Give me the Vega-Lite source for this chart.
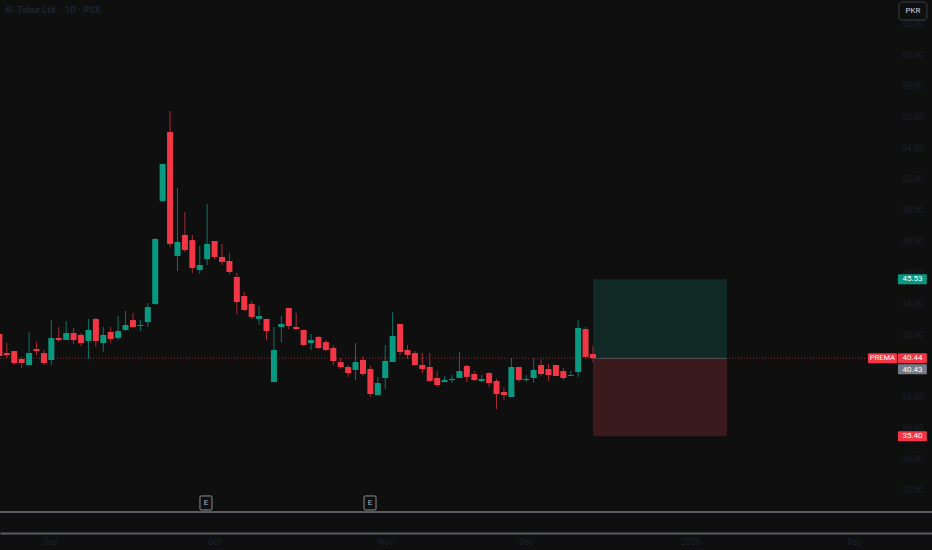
{
  "$schema": "https://vega.github.io/schema/vega-lite/v6.json",
  "width": 932,
  "height": 550,
  "autosize": {"type": "none"},
  "padding": 0,
  "background": "#0f0f0f",
  "title": {"text": "Al-Tahur Ltd. · 1D · PSX", "anchor": "start", "frame": "group", "offset": -15, "dx": 5, "color": "#1c2433", "fontSize": 9, "fontWeight": "bold", "font": "Roboto"},
  "config": {
    "view": {"stroke": null},
    "font": "Roboto",
    "axis": {"grid": false, "ticks": false, "labelOverlap": false, "labelBound": false, "labelFlush": false, "labelColor": "#1a2030", "labelFontSize": 8.5, "title": null},
    "axisY": {"labelAlign": "right", "labelBaseline": "middle", "labelPadding": 0, "domain": false},
    "axisX": {"labelPadding": 4, "domainColor": "#5a5c62", "domainWidth": 2}
  },
  "datasets": {
    "candles": [
      {"k": 0, "o": 42.00, "h": 42.10, "l": 40.50, "c": 40.58},
      {"k": 1, "o": 40.77, "h": 41.42, "l": 40.45, "c": 40.65},
      {"k": 2, "o": 40.90, "h": 40.90, "l": 40.00, "c": 40.13},
      {"k": 3, "o": 40.39, "h": 40.52, "l": 39.81, "c": 40.13},
      {"k": 4, "o": 40.00, "h": 42.13, "l": 39.94, "c": 40.77},
      {"k": 5, "o": 41.03, "h": 41.48, "l": 40.65, "c": 40.90},
      {"k": 6, "o": 40.77, "h": 40.97, "l": 40.00, "c": 40.13},
      {"k": 7, "o": 40.32, "h": 42.90, "l": 40.00, "c": 41.74},
      {"k": 8, "o": 41.74, "h": 42.45, "l": 41.48, "c": 41.61},
      {"k": 9, "o": 41.61, "h": 42.84, "l": 41.61, "c": 42.06},
      {"k": 10, "o": 42.06, "h": 42.39, "l": 41.35, "c": 41.61},
      {"k": 11, "o": 41.94, "h": 42.06, "l": 41.23, "c": 41.42},
      {"k": 12, "o": 41.55, "h": 42.97, "l": 40.39, "c": 42.26},
      {"k": 13, "o": 42.97, "h": 43.03, "l": 41.16, "c": 41.55},
      {"k": 14, "o": 41.42, "h": 42.45, "l": 40.84, "c": 41.94},
      {"k": 15, "o": 42.13, "h": 42.45, "l": 41.42, "c": 41.68},
      {"k": 16, "o": 41.74, "h": 43.16, "l": 41.61, "c": 42.19},
      {"k": 17, "o": 42.26, "h": 43.48, "l": 42.19, "c": 42.58},
      {"k": 18, "o": 42.90, "h": 43.35, "l": 42.45, "c": 42.45},
      {"k": 19, "o": 42.52, "h": 42.90, "l": 42.19, "c": 42.58},
      {"k": 20, "o": 42.77, "h": 44.00, "l": 42.45, "c": 43.74},
      {"k": 21, "o": 43.94, "h": 48.20, "l": 43.90, "c": 48.13},
      {"k": 22, "o": 50.58, "h": 53.00, "l": 50.50, "c": 52.97},
      {"k": 23, "o": 55.03, "h": 56.39, "l": 47.61, "c": 47.81},
      {"k": 24, "o": 47.03, "h": 51.42, "l": 46.06, "c": 47.94},
      {"k": 25, "o": 48.39, "h": 49.87, "l": 47.29, "c": 47.42},
      {"k": 26, "o": 48.06, "h": 48.39, "l": 45.94, "c": 46.26},
      {"k": 27, "o": 46.13, "h": 47.68, "l": 45.87, "c": 46.45},
      {"k": 28, "o": 46.84, "h": 50.39, "l": 46.45, "c": 47.81},
      {"k": 29, "o": 48.00, "h": 48.00, "l": 46.84, "c": 46.97},
      {"k": 30, "o": 46.97, "h": 47.81, "l": 46.45, "c": 46.65},
      {"k": 31, "o": 46.71, "h": 47.23, "l": 45.87, "c": 46.00},
      {"k": 32, "o": 45.68, "h": 45.94, "l": 43.29, "c": 44.06},
      {"k": 33, "o": 44.45, "h": 44.71, "l": 43.48, "c": 43.55},
      {"k": 34, "o": 43.94, "h": 44.13, "l": 42.97, "c": 43.10},
      {"k": 35, "o": 42.97, "h": 43.81, "l": 42.58, "c": 43.16},
      {"k": 36, "o": 42.97, "h": 42.97, "l": 41.61, "c": 42.19},
      {"k": 37, "o": 38.90, "h": 42.45, "l": 38.90, "c": 40.97},
      {"k": 38, "o": 42.45, "h": 43.16, "l": 41.48, "c": 42.65},
      {"k": 39, "o": 43.68, "h": 43.68, "l": 42.32, "c": 42.52},
      {"k": 40, "o": 42.45, "h": 43.35, "l": 42.32, "c": 42.32},
      {"k": 41, "o": 42.26, "h": 42.26, "l": 41.23, "c": 41.29},
      {"k": 42, "o": 41.42, "h": 42.00, "l": 40.97, "c": 41.61},
      {"k": 43, "o": 41.81, "h": 41.87, "l": 41.03, "c": 41.10},
      {"k": 44, "o": 41.48, "h": 41.61, "l": 40.90, "c": 40.97},
      {"k": 45, "o": 41.10, "h": 41.29, "l": 40.00, "c": 40.26},
      {"k": 46, "o": 40.19, "h": 40.45, "l": 39.74, "c": 39.87},
      {"k": 47, "o": 39.87, "h": 40.00, "l": 39.23, "c": 39.48},
      {"k": 48, "o": 39.68, "h": 41.42, "l": 39.03, "c": 40.19},
      {"k": 49, "o": 40.32, "h": 40.58, "l": 39.29, "c": 39.42},
      {"k": 50, "o": 39.74, "h": 39.94, "l": 37.94, "c": 38.13},
      {"k": 51, "o": 38.06, "h": 39.23, "l": 38.06, "c": 38.84},
      {"k": 52, "o": 39.16, "h": 41.29, "l": 38.45, "c": 40.26},
      {"k": 53, "o": 40.19, "h": 43.42, "l": 40.19, "c": 41.87},
      {"k": 54, "o": 42.65, "h": 42.65, "l": 40.65, "c": 40.84},
      {"k": 55, "o": 40.97, "h": 41.29, "l": 40.39, "c": 40.65},
      {"k": 56, "o": 40.77, "h": 40.90, "l": 40.00, "c": 40.00},
      {"k": 57, "o": 40.00, "h": 40.77, "l": 39.48, "c": 39.74},
      {"k": 58, "o": 39.87, "h": 40.77, "l": 38.90, "c": 38.97},
      {"k": 59, "o": 39.16, "h": 39.61, "l": 38.58, "c": 38.71},
      {"k": 60, "o": 38.90, "h": 39.29, "l": 38.90, "c": 39.03},
      {"k": 61, "o": 39.03, "h": 39.35, "l": 38.84, "c": 39.10},
      {"k": 62, "o": 39.16, "h": 40.84, "l": 39.16, "c": 39.61},
      {"k": 63, "o": 39.94, "h": 40.00, "l": 38.90, "c": 39.23},
      {"k": 64, "o": 39.42, "h": 39.61, "l": 38.97, "c": 39.03},
      {"k": 65, "o": 38.97, "h": 39.35, "l": 38.90, "c": 39.10},
      {"k": 66, "o": 39.48, "h": 39.55, "l": 38.58, "c": 38.84},
      {"k": 67, "o": 38.97, "h": 39.10, "l": 37.16, "c": 38.13},
      {"k": 68, "o": 38.26, "h": 38.58, "l": 37.74, "c": 38.06},
      {"k": 69, "o": 37.94, "h": 40.45, "l": 37.94, "c": 39.87},
      {"k": 70, "o": 39.87, "h": 39.87, "l": 38.90, "c": 39.03},
      {"k": 71, "o": 39.03, "h": 39.35, "l": 38.90, "c": 39.10},
      {"k": 72, "o": 39.16, "h": 40.45, "l": 38.84, "c": 39.68},
      {"k": 73, "o": 40.00, "h": 40.39, "l": 39.29, "c": 39.42},
      {"k": 74, "o": 39.74, "h": 40.06, "l": 38.97, "c": 39.35},
      {"k": 75, "o": 40.00, "h": 40.00, "l": 39.29, "c": 39.29},
      {"k": 76, "o": 39.61, "h": 39.81, "l": 39.03, "c": 39.16},
      {"k": 77, "o": 39.29, "h": 39.61, "l": 39.29, "c": 39.35},
      {"k": 78, "o": 39.55, "h": 42.90, "l": 39.23, "c": 42.39},
      {"k": 79, "o": 42.32, "h": 42.45, "l": 40.39, "c": 40.52},
      {"k": 80, "o": 40.71, "h": 41.23, "l": 40.19, "c": 40.44}
    ],
    "zones": [
      {"zone": "profit", "from": 40.43, "to": 45.53},
      {"zone": "loss", "from": 35.40, "to": 40.43}
    ],
    "tags": [
      {"label": "45.53", "price": 45.53, "kind": "target"},
      {"label": "40.44", "price": 40.44, "kind": "last"},
      {"label": "35.40", "price": 35.40, "kind": "stop"}
    ],
    "events": [
      {"k": 27.84, "label": "E"},
      {"k": 49.95, "label": "E"}
    ]
  },
  "layer": [
    {
      "data": {"name": "candles"},
      "mark": {"type": "bar", "size": 6, "opacity": 0},
      "encoding": {
        "x": {"field": "k", "type": "quantitative", "scale": {"domain": [0.081, 125.69], "nice": false, "zero": false, "padding": 0},
          "axis": {"orient": "bottom", "offset": -17, "values": [6.82, 28.9, 51.97, 70.97, 93.07, 115.2],
            "labelExpr": "datum.value < 10 ? 'Sep' : datum.value < 40 ? 'Oct' : datum.value < 60 ? 'Nov' : datum.value < 80 ? 'Dec' : datum.value < 100 ? '2026' : 'Feb'"}},
        "y": {"field": "o", "type": "quantitative", "scale": {"domain": [28.065, 63.548], "nice": false, "zero": false, "padding": 0},
          "axis": {"orient": "right", "offset": -9, "format": ".2f", "values": [32, 34, 36, 38, 40, 42, 44, 46, 48, 50, 52, 54, 56, 58, 60, 62],
            "labelOverlap": false, "labelSeparation": 0, "tickCount": 20, "labelLimit": 60}},
        "y2": {"field": "c"}
      }
    },
    {
      "data": {"values": [{"price": 40.44}]},
      "mark": {"type": "rule", "color": "#8c2a33", "strokeDash": [1, 2], "strokeWidth": 1},
      "encoding": {
        "x": {"datum": 0.081, "type": "quantitative"},
        "x2": {"datum": 117.06},
        "y": {"field": "price", "type": "quantitative"}
      }
    },
    {
      "data": {"name": "zones"},
      "mark": {"type": "rect"},
      "encoding": {
        "x": {"datum": 80.0, "type": "quantitative"},
        "x2": {"datum": 98.06},
        "y": {"field": "from", "type": "quantitative"},
        "y2": {"field": "to"},
        "color": {"condition": {"test": "datum.zone === 'profit'", "value": "#112a26"}, "value": "#3a1a1d"}
      }
    },
    {
      "data": {"values": [{"price": 40.43}]},
      "mark": {"type": "rule", "color": "#4f525b", "strokeWidth": 1},
      "encoding": {
        "x": {"datum": 80.0, "type": "quantitative"},
        "x2": {"datum": 98.06},
        "y": {"field": "price", "type": "quantitative"}
      }
    },
    {
      "data": {"name": "candles"},
      "mark": {"type": "rule", "strokeWidth": 1},
      "encoding": {
        "x": {"field": "k", "type": "quantitative"},
        "y": {"field": "l", "type": "quantitative"},
        "y2": {"field": "h"},
        "color": {"condition": {"test": "datum.c >= datum.o", "value": "#0b7465"}, "value": "#a62a35"}
      }
    },
    {
      "data": {"name": "candles"},
      "mark": {"type": "bar", "size": 6},
      "encoding": {
        "x": {"field": "k", "type": "quantitative"},
        "y": {"field": "o", "type": "quantitative"},
        "y2": {"field": "c"},
        "color": {"condition": {"test": "datum.c >= datum.o", "value": "#089981"}, "value": "#f23645"}
      }
    },
    {
      "data": {"values": [{"price": 30.516}]},
      "mark": {"type": "rule", "strokeWidth": 1, "color": "#a3a6af"},
      "encoding": {
        "x": {"datum": 0.081, "type": "quantitative"},
        "x2": {"datum": 125.69},
        "y": {"field": "price", "type": "quantitative"}
      }
    },
    {
      "data": {"name": "events"},
      "mark": {"type": "rect", "fill": "#0f0f0f", "stroke": "#8a8d96", "strokeWidth": 1, "cornerRadius": 1, "xOffset": -6, "x2Offset": 6, "yOffset": -7, "y2Offset": 7},
      "encoding": {
        "x": {"field": "k", "type": "quantitative"},
        "x2": {"field": "k"},
        "y": {"datum": 31.1, "type": "quantitative"},
        "y2": {"datum": 31.1}
      }
    },
    {
      "data": {"name": "events"},
      "mark": {"type": "text", "color": "#b2b5be", "fontSize": 8, "baseline": "middle", "align": "center"},
      "encoding": {
        "x": {"field": "k", "type": "quantitative"},
        "y": {"datum": 31.1, "type": "quantitative"},
        "text": {"field": "label"}
      }
    },
    {
      "data": {"name": "tags"},
      "mark": {"type": "rect", "yOffset": -5, "y2Offset": 5, "cornerRadius": 1},
      "encoding": {
        "x": {"datum": 121.1, "type": "quantitative"},
        "x2": {"datum": 125.0},
        "y": {"field": "price", "type": "quantitative"},
        "y2": {"field": "price"},
        "color": {"condition": {"test": "datum.kind === 'target'", "value": "#089981"}, "value": "#f23645"}
      }
    },
    {
      "data": {"values": [{"label": "40.43", "price": 40.43}]},
      "mark": {"type": "rect", "yOffset": 6, "y2Offset": 16, "cornerRadius": 1, "color": "#787b86"},
      "encoding": {
        "x": {"datum": 121.1, "type": "quantitative"},
        "x2": {"datum": 125.0},
        "y": {"field": "price", "type": "quantitative"},
        "y2": {"field": "price"}
      }
    },
    {
      "data": {"values": [{"label": "40.43", "price": 40.43}]},
      "mark": {"type": "text", "color": "#ffffff", "fontSize": 8, "baseline": "middle", "align": "center", "dy": 11.5},
      "encoding": {
        "x": {"datum": 123.06, "type": "quantitative"},
        "y": {"field": "price", "type": "quantitative"},
        "text": {"field": "label"}
      }
    },
    {
      "data": {"values": [{"label": "PREMA", "price": 40.44}]},
      "mark": {"type": "rect", "yOffset": -5, "y2Offset": 5, "cornerRadius": 1, "color": "#f23645"},
      "encoding": {
        "x": {"datum": 117.06, "type": "quantitative"},
        "x2": {"datum": 120.97},
        "y": {"field": "price", "type": "quantitative"},
        "y2": {"field": "price"}
      }
    },
    {
      "data": {"values": [{"label": "PREMA", "price": 40.44}]},
      "mark": {"type": "text", "color": "#ffffff", "fontSize": 7.5, "baseline": "middle", "align": "center"},
      "encoding": {
        "x": {"datum": 119.0, "type": "quantitative"},
        "y": {"field": "price", "type": "quantitative"},
        "text": {"field": "label"}
      }
    },
    {
      "data": {"name": "tags"},
      "mark": {"type": "text", "color": "#ffffff", "fontSize": 8, "baseline": "middle", "align": "center"},
      "encoding": {
        "x": {"datum": 123.06, "type": "quantitative"},
        "y": {"field": "price", "type": "quantitative"},
        "text": {"field": "label"}
      }
    },
    {
      "data": {"values": [{"label": "PKR", "top": 63.42, "bottom": 62.26}]},
      "mark": {"type": "rect", "fill": "#0f0f0f", "stroke": "#3a3d45", "strokeWidth": 1, "cornerRadius": 3},
      "encoding": {
        "x": {"datum": 121.24, "type": "quantitative"},
        "x2": {"datum": 125.0},
        "y": {"field": "top", "type": "quantitative"},
        "y2": {"field": "bottom"}
      }
    },
    {
      "data": {"values": [{"label": "PKR", "price": 62.84}]},
      "mark": {"type": "text", "color": "#d1d4dc", "fontSize": 8, "baseline": "middle", "align": "center"},
      "encoding": {
        "x": {"datum": 123.12, "type": "quantitative"},
        "y": {"field": "price", "type": "quantitative"},
        "text": {"field": "label"}
      }
    }
  ]
}
